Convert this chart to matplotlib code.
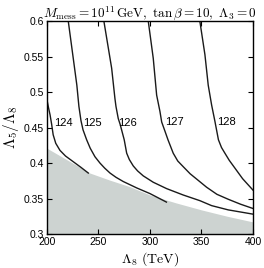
import matplotlib
matplotlib.use("Agg")
from matplotlib import pyplot as plt

plt.rcParams['mathtext.fontset'] = 'cm'
plt.rcParams['font.family'] = ['Liberation Sans', 'DejaVu Sans']

# excluded region (upper boundary)
shade_x = [200, 225, 241.7, 261, 280, 300, 325, 350, 375, 400]
shade_y = [0.421, 0.400, 0.386, 0.376, 0.367, 0.355, 0.344, 0.334, 0.325, 0.317]

# Higgs mass contours (GeV)
levels = ["124", "125", "126", "127", "128"]
c124_x = [200.3, 201.5, 203, 204.5, 206, 208.5, 212.6, 218, 225.5, 233, 240.1]
c124_y = [0.487, 0.478, 0.468, 0.455, 0.440, 0.428, 0.418, 0.410, 0.402, 0.394, 0.386]
c125_x = [220.7, 225.5, 229, 231, 233, 235, 238.5, 242, 246.6, 251.5, 256, 261.2, 267, 274.1, 287.1, 300, 316]
c125_y = [0.6, 0.548, 0.51, 0.48, 0.46, 0.447, 0.433, 0.421, 0.409, 0.400, 0.393, 0.386, 0.380, 0.374, 0.365, 0.357, 0.345]
c126_x = [255.3, 262.8, 266, 267, 269.2, 271, 275, 277.4, 280, 283.8, 288, 293.5, 303.2, 316.2, 332.3, 348.5, 359.9, 376, 400]
c126_y = [0.6, 0.534, 0.491, 0.48, 0.463, 0.455, 0.433, 0.414, 0.405, 0.396, 0.389, 0.382, 0.373, 0.364, 0.355, 0.347, 0.340, 0.334, 0.328]
c127_x = [298.4, 303.2, 306.5, 309.7, 311.4, 314.6, 317.5, 322.6, 327, 332.3, 339, 346.6, 355, 365, 376, 388, 400]
c127_y = [0.6, 0.548, 0.496, 0.473, 0.458, 0.445, 0.433, 0.414, 0.403, 0.395, 0.385, 0.376, 0.366, 0.356, 0.349, 0.342, 0.336]
c128_x = [348.5, 353.4, 356.6, 359.9, 363.1, 366.5, 369.5, 372.8, 377, 382.5, 390, 395, 400]
c128_y = [0.6, 0.553, 0.510, 0.482, 0.459, 0.433, 0.422, 0.414, 0.404, 0.393, 0.378, 0.370, 0.362]
curves = [(c124_x, c124_y), (c125_x, c125_y), (c126_x, c126_y), (c127_x, c127_y), (c128_x, c128_y)]
label_x = [215.5, 244, 278, 324, 374.5]
label_y = [0.457, 0.457, 0.457, 0.458, 0.458]

fig = plt.figure(figsize=(2.64, 2.68), dpi=100)
ax = fig.add_axes([0.178, 0.127, 0.78, 0.793])

ax.fill_between(shade_x, 0.3, shade_y, color='#cdd3d1', lw=0)
for cx, cy in curves:
    ax.plot(cx, cy, color='#1a1a1a', lw=1.0)
for lab, lx, ly in zip(levels, label_x, label_y):
    ax.text(lx, ly, lab, fontsize=8, ha='center', va='center')

ax.set_xlim(200, 400)
ax.set_ylim(0.3, 0.6)
ax.set_xticks([200, 250, 300, 350, 400])
ax.set_yticks([0.3, 0.35, 0.4, 0.45, 0.5, 0.55, 0.6])
ax.set_yticklabels(["0.3", "0.35", "0.4", "0.45", "0.5", "0.55", "0.6"])
ax.tick_params(direction='in', top=True, right=True, length=3.5, width=0.8, labelsize=7.5, pad=2.5)
for s in ax.spines.values():
    s.set_linewidth(1.0)

ax.set_xlabel(r'$\Lambda_8\ (\mathrm{TeV})$', fontsize=10, labelpad=2)
ax.set_ylabel(r'$\Lambda_5/\Lambda_8$', fontsize=11, labelpad=2)
ax.set_title(r'$M_{\rm mess} = 10^{11}\,\mathrm{GeV},\ \tan\beta = 10,\ \Lambda_3 = 0$', fontsize=9.5, pad=3)

fig.savefig('out.png', dpi=100)
